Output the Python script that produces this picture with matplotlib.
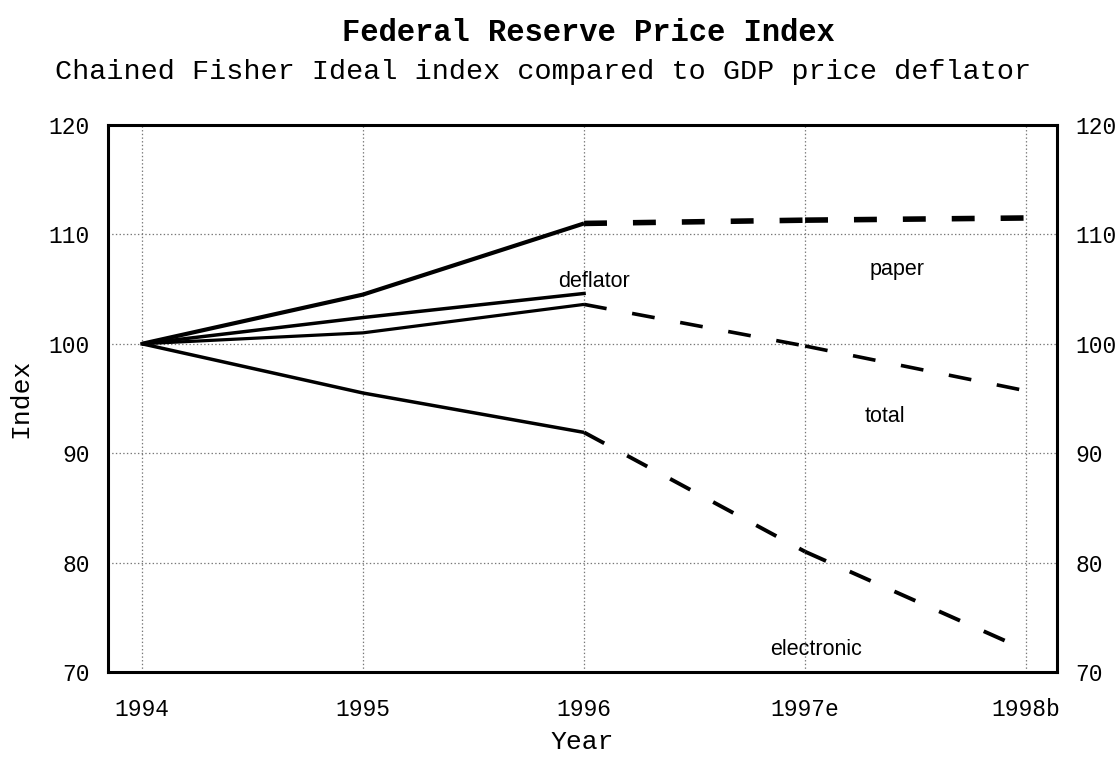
import matplotlib.pyplot as plt

years = ['1994', '1995', '1996', '1997e', '1998b']
x = [0, 1, 2, 3, 4]

# index values (1994 = 100)
paper = [100, 104.5, 111.0, 111.3, 111.5]
deflator = [100, 102.4, 104.6]
total = [100, 101.0, 103.6, 99.8, 95.7]
electronic = [100, 95.5, 91.9, 81.0, 72.0]

# series names written inside the plot (x, baseline y in data units)
labels = {
    'deflator': (2.045, 105.2),
    'paper': (3.416, 106.3),
    'total': (3.36, 92.85),
    'electronic': (3.05, 71.55),
}

mono = 'Liberation Mono'
plt.rcParams['lines.scale_dashes'] = False

fig = plt.figure(figsize=(11.2, 7.57), dpi=100)
ax = fig.add_axes([0.0964, 0.1123, 0.8474, 0.7226])

# 1994-1996 actuals are solid, estimates/budget dashed
for series, lw, dlw in [(paper, 3.0, 4.0), (total, 2.3, 2.6), (electronic, 2.5, 2.8)]:
    ax.plot(x[:3], series[:3], color='black', lw=lw, solid_capstyle='butt')
    for i in range(2, 4):
        ax.plot(x[i:i + 2], series[i:i + 2], color='black', lw=dlw,
                dashes=(16.5, 18.7), dash_capstyle='butt')
ax.plot(x[:3], deflator, color='black', lw=2.5)

for name, (lx, ly) in labels.items():
    ax.text(lx, ly, name, ha='center', va='baseline', fontsize=15.5,
            family='Liberation Sans')

ax.set_xlim(-0.154, 4.14)
ax.set_ylim(70, 120)
ax.set_xticks(x)
ax.set_xticklabels(years)
ax.set_yticks([70, 80, 90, 100, 110, 120])
ax.tick_params(length=0, labelsize=16.5, labelright=True)
ax.tick_params(axis='y', pad=13)
ax.tick_params(axis='x', pad=19)
for lab in ax.get_xticklabels() + ax.get_yticklabels():
    lab.set_family(mono)

ax.grid(True, ls=':', color='#777777', lw=0.9)
for sp in ax.spines.values():
    sp.set_linewidth(2.2)

ax.set_xlabel('Year', family=mono, fontsize=19, labelpad=6)
ax.set_ylabel('Index', family=mono, fontsize=19, labelpad=12)

fig.text(0.525, 0.957, 'Federal Reserve Price Index', ha='center', va='center',
         family=mono, fontweight='bold', fontsize=22)
fig.text(0.485, 0.905, 'Chained Fisher Ideal index compared to GDP price deflator',
         ha='center', va='center', family=mono, fontsize=20.5)

fig.savefig('out.png', dpi=100)
